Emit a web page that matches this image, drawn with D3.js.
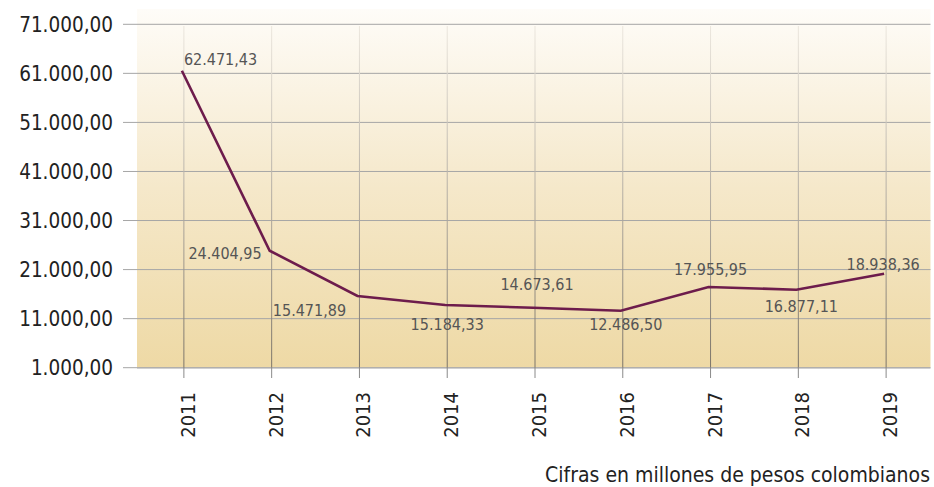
<!DOCTYPE html>
<html><head><meta charset="utf-8">
<script src="https://cdn.jsdelivr.net/npm/d3@7/dist/d3.min.js"></script>
<style>
body{margin:0;background:#fff;}
svg{display:block;}
text{font-family:"DejaVu Sans Condensed","DejaVu Sans",sans-serif;}
</style></head>
<body>
<script>
const years = ["2011","2012","2013","2014","2015","2016","2017","2018","2019"];
const values = [61540, 24850, 15620, 13780, 13230, 12620, 17450, 16900, 20160];
const labels = ["62.471,43","24.404,95","15.471,89","15.184,33","14.673,61","12.486,50","17.955,95","16.877,11","18.938,36"];
const yTicks = [1000, 11000, 21000, 31000, 41000, 51000, 61000, 71000];
const caption = "Cifras en millones de pesos colombianos";
// label placement offsets (dx, baseline y)
const labelDx = [0, -10, -50, 0, 2, 3, 0, 3, -3];
const labelAnchor = ["start","end","middle","middle","middle","middle","middle","middle","middle"];
const labelBaseline = [65, 259, 316, 330, 290, 330, 275, 312, 270];

const W = 934, H = 487;
const svg = d3.select("body").append("svg").attr("width", W).attr("height", H);

const x = d3.scalePoint().domain(years).range([140, 930]).padding(0.5);
const y = d3.scaleLinear().domain([1000, 71000]).range([367.7, 24.3]);

const defs = svg.append("defs");
const bg = defs.append("linearGradient").attr("id","bg").attr("x1",0).attr("y1",0).attr("x2",0).attr("y2",1);
bg.append("stop").attr("offset","0%").attr("stop-color","#fefcf8");
bg.append("stop").attr("offset","50%").attr("stop-color","#f5e8ca");
bg.append("stop").attr("offset","100%").attr("stop-color","#eed9a5");
const vg = defs.append("linearGradient").attr("id","vg").attr("gradientUnits","userSpaceOnUse")
  .attr("x1",0).attr("y1",24).attr("x2",0).attr("y2",368);
vg.append("stop").attr("offset","0%").attr("stop-color","#ece7de");
vg.append("stop").attr("offset","100%").attr("stop-color","#7a7368");

// background
svg.append("rect").attr("x",137).attr("y",9).attr("width",930.5-137).attr("height",367.7-9).attr("fill","url(#bg)");
svg.append("line").attr("x1",137).attr("x2",930.5).attr("y1",368.2).attr("y2",368.2).attr("stroke","#cfcfcf").attr("stroke-width",1.2);

// horizontal grid
svg.append("g").selectAll("line").data(yTicks).join("line")
  .attr("x1",123).attr("x2",930.5)
  .attr("y1",d=>y(d)).attr("y2",d=>y(d))
  .attr("stroke","#a6a6a6").attr("stroke-width",1);

// vertical grid
svg.append("g").selectAll("line").data(years).join("line")
  .attr("x1",d=>x(d)).attr("x2",d=>x(d)).attr("y1",26).attr("y2",367.7)
  .attr("stroke","url(#vg)").attr("stroke-width",1);
svg.append("g").selectAll("line").data(years).join("line")
  .attr("x1",d=>x(d)).attr("x2",d=>x(d)).attr("y1",367.7).attr("y2",378)
  .attr("stroke","#8a8a8a").attr("stroke-width",1);

// y labels
svg.append("g").selectAll("text").data(yTicks).join("text")
  .attr("x",113).attr("y",d=>y(d)).attr("dy","0.36em")
  .attr("text-anchor","end").attr("font-size",20.5).attr("fill","#222")
  .text(d=>d3.format(",.2f")(d).replace(/,/g,"#").replace(".",",").replace(/#/g,"."));

// x labels
svg.append("g").selectAll("text").data(years).join("text")
  .attr("transform",d=>`translate(${x(d)+11},392) rotate(-90)`)
  .attr("text-anchor","end").attr("font-size",20).attr("fill","#222")
  .text(d=>d);

// line
svg.append("path").datum(values)
  .attr("d", d3.line().x((d,i)=>x(years[i])-2).y(d=>y(d)))
  .attr("fill","none").attr("stroke","#6d1c4c").attr("stroke-width",2.6).attr("stroke-linejoin","miter");

// value labels
svg.append("g").selectAll("text").data(labels).join("text")
  .attr("x",(d,i)=>x(years[i])+labelDx[i])
  .attr("y",(d,i)=>labelBaseline[i])
  .attr("text-anchor",(d,i)=>labelAnchor[i])
  .attr("font-size",16).attr("fill","#555")
  .text(d=>d);

svg.append("text").attr("x",930).attr("y",481.5).attr("text-anchor","end")
  .attr("font-size",21).attr("fill","#222").text(caption);
</script>
</body></html>
